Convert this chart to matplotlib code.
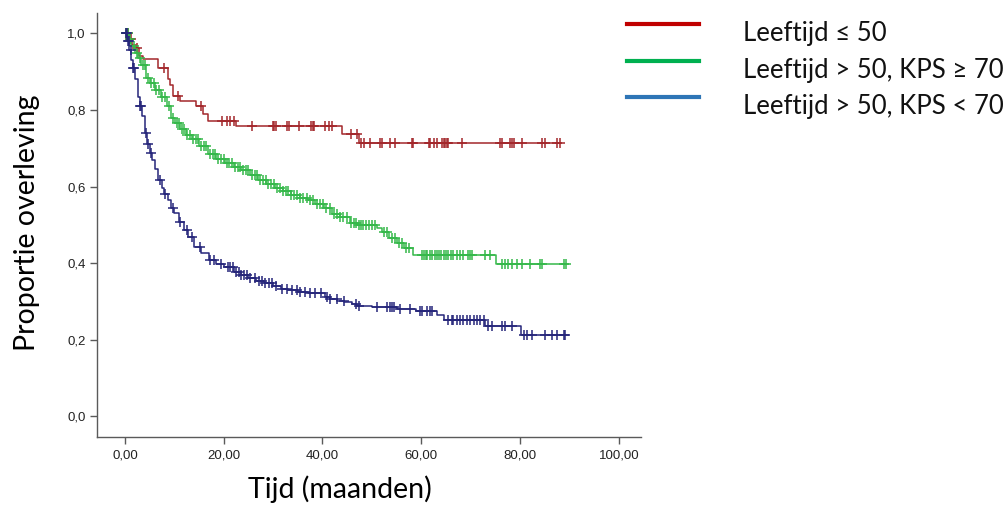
import numpy as np
import matplotlib
matplotlib.use("Agg")
import matplotlib.pyplot as plt
from matplotlib.lines import Line2D
from matplotlib.ticker import FuncFormatter

# --- Kaplan-Meier data ---
labels = ["Leeftijd \u2264 50", "Leeftijd > 50, KPS \u2265 70", "Leeftijd > 50, KPS < 70"]

red_t = [0, 0.7, 1.5, 2.2, 2.9, 3.6, 6.6, 8.7, 9.2, 9.7, 11.2, 14.3, 15.8, 16.8, 22.4, 44.0, 47.4]
red_s = [1.0, 0.985, 0.97, 0.962, 0.94, 0.932, 0.91, 0.88, 0.865, 0.836, 0.823, 0.81, 0.79, 0.77,
         0.757, 0.736, 0.714]
red_end = 88.0
red_cens = [0.3, 0.6, 1.0, 1.3, 2.5, 8.0, 10.7, 15.3, 19.7, 20.7, 21.3, 22.0, 25.8, 29.9, 30.2,
            30.6, 32.9, 33.3, 35.3, 37.6, 38.0, 38.3, 40.6, 41.3, 42.0, 45.7, 47.0, 47.7, 48.4,
            49.7, 51.7, 52.1, 53.7, 54.7, 58.1, 58.4, 61.5, 61.8, 62.5, 63.2, 64.2, 64.5, 64.9,
            65.2, 65.5, 68.2, 76.0, 76.3, 78.0, 78.3, 78.7, 80.3, 84.4, 85.1, 87.4, 88.0]

green_t = [0, 0.8, 1.3, 2.0, 2.6, 3.3, 4.3, 5.0, 6.0, 7.3, 8.5, 9.4, 10.2, 11.1, 12.3, 13.5, 15.0,
           16.8, 18.5, 20.2, 22.0, 23.6, 25.3, 27.0, 28.6, 30.3, 32.0, 33.7, 35.5, 37.0, 38.5,
           40.3, 42.0, 43.6, 45.5, 47.0, 51.0, 52.0, 53.5, 55.0, 56.5, 58.3, 75.2]
green_s = [1.0, 0.985, 0.967, 0.95, 0.935, 0.918, 0.884, 0.87, 0.853, 0.835, 0.81, 0.78, 0.765,
           0.749, 0.735, 0.723, 0.705, 0.684, 0.672, 0.662, 0.652, 0.644, 0.63, 0.618, 0.606,
           0.595, 0.587, 0.578, 0.571, 0.565, 0.555, 0.545, 0.528, 0.52, 0.505, 0.5, 0.492,
           0.48, 0.465, 0.453, 0.44, 0.421, 0.398]
green_end = 89.2
green_cens = [0.3, 0.6, 1.0, 1.8, 2.4, 3.0, 3.6, 4.0, 4.6, 5.3, 5.8, 6.3, 6.8, 7.5, 8.2, 9.0, 9.8,
              10.5, 11.0, 11.6, 12.0, 12.6, 13.2, 13.8, 14.3, 14.8, 15.5, 16.0, 16.5, 17.2, 17.8,
              18.3, 18.9, 19.4, 20.0, 20.6, 21.1, 21.7, 22.3, 22.8, 23.3, 24.0, 24.5, 25.0, 25.7,
              26.3, 26.8, 27.4, 28.0, 28.5, 29.0, 29.6, 30.2, 30.8, 31.4, 32.0, 32.6, 33.1, 33.7,
              34.3, 34.9, 35.5, 36.1, 36.8, 37.5, 38.1, 38.8, 39.5, 40.2, 40.8, 41.5, 42.3, 43.0,
              43.6, 44.2, 45.0, 45.8, 46.3, 46.8, 47.3, 47.8, 48.3, 48.8, 49.5, 50.0, 50.6, 52.5,
              53.0, 54.0, 54.6, 55.5, 56.0, 57.0, 57.6, 60.2, 60.5, 60.9, 61.2, 61.7, 62.2, 62.7,
              63.2, 63.5, 64.0, 64.5, 65.1, 65.5, 66.0, 66.5, 67.2, 67.9, 68.5, 69.5, 69.9, 70.2,
              73.0, 74.0, 76.3, 76.9, 77.6, 78.3, 79.3, 80.3, 82.0, 84.0, 84.4, 88.8, 89.2]

blue_t = [0, 0.5, 0.9, 1.3, 1.6, 2.0, 2.6, 3.0, 3.5, 4.0, 4.5, 5.0, 5.5, 6.0, 6.7, 7.5, 8.0, 8.7,
          9.3, 10.0, 11.0, 12.0, 12.8, 14.0, 15.4, 17.1, 18.5, 20.1, 22.1, 23.5, 24.9, 26.5, 28.2,
          30.0, 31.5, 33.0, 35.0, 37.0, 39.6, 40.5, 41.6, 43.0, 44.4, 46.0, 47.0, 50.0, 55.0,
          59.0, 63.2, 64.5, 72.8, 80.2]
blue_s = [1.0, 0.98, 0.957, 0.93, 0.91, 0.88, 0.835, 0.81, 0.785, 0.74, 0.71, 0.688, 0.67, 0.645,
          0.617, 0.595, 0.58, 0.565, 0.545, 0.53, 0.508, 0.487, 0.469, 0.443, 0.426, 0.408,
          0.398, 0.391, 0.377, 0.368, 0.36, 0.353, 0.347, 0.34, 0.333, 0.329, 0.325, 0.323,
          0.321, 0.312, 0.305, 0.3, 0.297, 0.292, 0.288, 0.284, 0.279, 0.275, 0.264, 0.251,
          0.236, 0.212]
blue_end = 89.0
blue_cens = [0.2, 0.4, 0.6, 0.8, 1.2, 1.7, 1.9, 3.0, 3.3, 4.3, 4.6, 5.2, 7.0, 8.2, 9.8, 11.1,
             12.5, 13.5, 15.2, 17.2, 18.0, 19.5, 20.8, 21.3, 21.8, 22.4, 23.0, 23.6, 24.1, 24.8,
             25.4, 26.4, 27.1, 27.8, 28.4, 29.1, 29.8, 30.5, 31.8, 32.8, 33.8, 34.8, 35.5, 36.5,
             37.5, 38.5, 39.6, 40.9, 41.6, 42.9, 44.3, 46.7, 47.4, 51.1, 53.1, 53.7, 54.1, 54.4,
             55.7, 57.8, 59.8, 60.2, 61.2, 61.8, 62.1, 65.5, 66.2, 66.5, 67.2, 67.9, 68.5, 69.2,
             69.9, 70.6, 71.2, 71.9, 72.6, 73.6, 74.3, 76.3, 76.9, 78.3, 80.7, 81.4, 82.4, 85.1,
             86.5, 87.5, 88.8, 89.0]

curve_colors = ["#a3272b", "#35b84a", "#26267a"]
legend_colors = ["#c00000", "#00b050", "#2e75b6"]

groups = [
    (red_t, red_s, red_end, red_cens),
    (green_t, green_s, green_end, green_cens),
    (blue_t, blue_s, blue_end, blue_cens),
]

fig = plt.figure(figsize=(10.08, 5.09), dpi=100)
ax = fig.add_axes([0.0965, 0.141, 0.539, 0.834])

for (t, s, t_end, cens), col in zip(groups, curve_colors):
    t = np.array(t + [t_end])
    s = np.array(s + [s[-1]])
    ax.step(t, s, where="post", color=col, lw=1.1)
    # censored observations
    cens = np.array(cens)
    idx = np.searchsorted(t, cens, side="right") - 1
    ax.plot(cens, s[idx], ls="", marker="+", ms=7.5, mew=1.1, color=col)

ax.set_xlim(-5.6, 104.4)
ax.set_ylim(-0.055, 1.054)
ax.set_xticks([0, 20, 40, 60, 80, 100])
ax.set_yticks([0, 0.2, 0.4, 0.6, 0.8, 1.0])
ax.xaxis.set_major_formatter(FuncFormatter(lambda v, p: f"{v:.2f}".replace(".", ",")))
ax.yaxis.set_major_formatter(FuncFormatter(lambda v, p: f"{v:.1f}".replace(".", ",")))

for side in ["top", "right"]:
    ax.spines[side].set_visible(False)
for side in ["left", "bottom"]:
    ax.spines[side].set_color("#5a5a5a")
    ax.spines[side].set_linewidth(1.0)
ax.tick_params(direction="out", length=5, width=1.0, color="#5a5a5a",
               labelsize=9.5, labelcolor="#222222")
for lab in ax.get_xticklabels() + ax.get_yticklabels():
    lab.set_fontfamily("Liberation Sans")

title_font = ["Lato", "DejaVu Sans"]
fig.text(0.337, 0.022, "Tijd (maanden)", ha="center", va="baseline", fontsize=20.5,
         family=title_font)
fig.text(0.027, 0.562, "Proportie overleving", ha="center", va="center", rotation=90,
         fontsize=20.5, family=title_font)

# legend drawn outside the axes
leg_line_y = [24.3, 60.7, 96.7]
for y, col, lab in zip(leg_line_y, legend_colors, labels):
    fy = 1 - y / 509
    fig.add_artist(Line2D([626.7 / 1008, 699 / 1008], [fy, fy], color=col, lw=3.0))
    fig.text(742.7 / 1008, 1 - (y + 17.2) / 509, lab, ha="left", va="baseline", fontsize=18.5,
             family=title_font, color="#111111")

fig.savefig("out.png", dpi=100)
